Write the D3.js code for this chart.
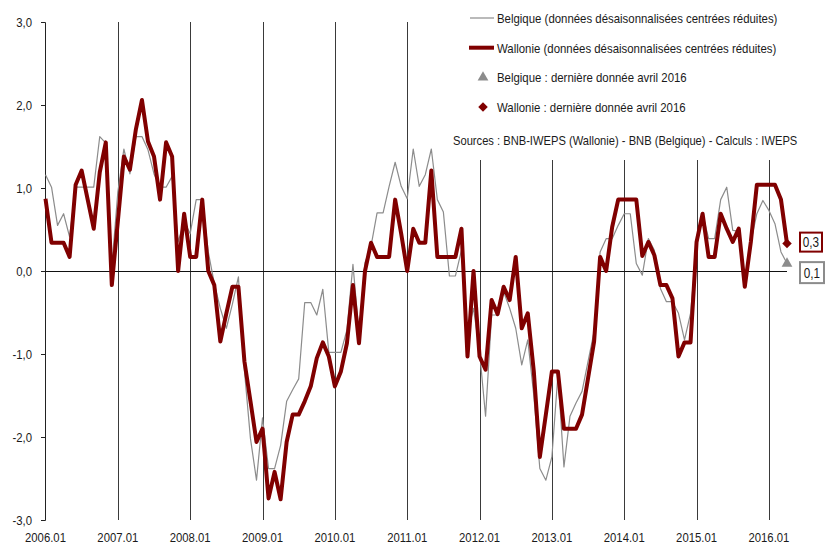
<!DOCTYPE html>
<html>
<head>
<meta charset="utf-8">
<script src="https://cdn.jsdelivr.net/npm/d3@7"></script>
<style>
  body { margin: 0; background: #fff; }
  svg text { font-family: "Liberation Sans", Arial, sans-serif; fill: #1a1a1a; }
</style>
</head>
<body>
<div id="container"></div>
<script>
var width = 827;
var height = 545;

// monthly values, 2006.01 -> 2016.04
var belgique = [
  1.16, 1.01, 0.55, 0.69, 0.41, 1.01, 1.01, 1.01, 1.01, 1.62, 1.54, 0.05,
  0.95, 1.47, 1.17, 1.62, 1.62, 1.46, 1.17, 1.01, 1.01, 1.14, 0.35, 0.6,
  0.45, 0.86, 0.86, 0.23, -0.15, -0.45, -0.69, -0.4, -0.07, -1.2, -2.02, -2.52,
  -1.77, -2.38, -2.38, -2.1, -1.57, -1.43, -1.3, -0.38, -0.38, -0.53, -0.22, -0.98,
  -0.98, -0.98, -0.71, 0.08, -0.75, 0.1, 0.3, 0.7, 0.7, 1.02, 1.31, 1.02,
  0.87, 1.47, 1.02, 1.16, 1.47, 0.86, 0.71, -0.06, -0.06, 0.25, -0.75, -0.45,
  -0.97, -1.75, -0.53, -0.53, -0.25, -0.45, -0.69, -1.13, -0.83, -1.5, -2.38, -2.52,
  -2.24, -1.25, -2.36, -1.75, -1.59, -1.45, -1.09, -0.73, 0.23, 0.39, 0.39, 0.55,
  0.69, 0.69, 0.09, -0.05, 0.39, 0.25, -0.21, -0.37, -0.37, -0.51, -0.83, -0.51,
  0.29, 0.69, 0.39, 0.39, 0.86, 1.01, 0.49, 0.48, -0.11, 0.35, 0.69, 0.85,
  0.73, 0.57, 0.23, 0.09
];

var wallonie = [
  0.87, 0.34, 0.34, 0.34, 0.17, 1.04, 1.21, 0.86, 0.51, 1.19, 1.55, -0.17,
  0.6, 1.38, 1.22, 1.71, 2.06, 1.56, 1.38, 0.86, 1.55, 1.38, 0.0, 0.69,
  0.17, 0.17, 0.86, 0.0, -0.17, -0.85, -0.51, -0.19, -0.19, -1.09, -1.57, -2.06,
  -1.9, -2.74, -2.42, -2.75, -2.06, -1.73, -1.73, -1.57, -1.39, -1.05, -0.86, -1.03,
  -1.39, -1.21, -0.87, -0.17, -0.87, 0.0, 0.34, 0.17, 0.17, 0.17, 0.86, 0.45,
  0.0, 0.51, 0.34, 0.34, 1.21, 0.17, 0.17, 0.17, 0.17, 0.51, -1.03, 0.0,
  -1.03, -1.19, -0.35, -0.52, -0.19, -0.35, 0.17, -0.69, -0.51, -1.21, -2.24, -1.73,
  -1.21, -1.21, -1.9, -1.9, -1.9, -1.73, -1.29, -0.85, 0.17, 0.0, 0.53, 0.86,
  0.86, 0.86, 0.86, 0.18, 0.35, 0.19, -0.17, -0.17, -0.33, -1.03, -0.86, -0.86,
  0.35, 0.69, 0.17, 0.17, 0.69, 0.51, 0.35, 0.51, -0.19, 0.35, 1.04, 1.04,
  1.04, 1.04, 0.86, 0.33
];

var yearLabels = ["2006.01", "2007.01", "2008.01", "2009.01", "2010.01", "2011.01",
  "2012.01", "2013.01", "2014.01", "2015.01", "2016.01"];
var yTicks = [-3, -2, -1, 0, 1, 2, 3];

var legendLabels = [
  "Belgique (données désaisonnalisées centrées réduites)",
  "Wallonie (données désaisonnalisées centrées réduites)",
  "Belgique : dernière donnée avril 2016",
  "Wallonie : dernière donnée avril 2016"
];
var sourceText = "Sources : BNB-IWEPS (Wallonie) - BNB (Belgique) - Calculs : IWEPS";

var grey = "#8c8c8c";
var red = "#800000";

// no narrow font installed: squeeze Liberation Sans horizontally
var squeeze = 0.84;
function sq(v) { return v / squeeze; }
var sqT = "scale(" + squeeze + ",1)";

// french number format, with a plain hyphen for negatives
var fr = d3.formatLocale({ decimal: ",", thousands: ".", grouping: [3], currency: ["", " €"], minus: "-" });
var fmt = fr.format(".1f");

window.onload = function() {
  var svg = d3
    .select("#container")
    .append("svg")
    .attr("width", width)
    .attr("height", height);

  var x = d3.scaleLinear().domain([0, belgique.length - 1]).range([45.5, 787]);
  var y = d3.scaleLinear().domain([-3, 3]).range([520, 22]);

  // vertical year lines
  svg
    .append("g")
    .selectAll("line")
    .data(yearLabels.slice(1))
    .enter()
    .append("line")
    .attr("x1", function(d, i) { return Math.round(x((i + 1) * 12)) + 0.5; })
    .attr("x2", function(d, i) { return Math.round(x((i + 1) * 12)) + 0.5; })
    .attr("y1", y(3))
    .attr("y2", y(-3))
    .style("stroke", "#3a3a3a")
    .style("stroke-width", 1);

  // year labels
  svg
    .append("g")
    .selectAll("text")
    .data(yearLabels)
    .enter()
    .append("text")
    .attr("x", function(d, i) { return sq(x(i * 12)); })
    .attr("y", 542.5)
    .attr("transform", sqT)
    .attr("text-anchor", "middle")
    .style("font-size", "13.5px")
    .text(function(d) { return d; });

  // y axis
  var yAxis = d3.axisLeft(y).tickValues(yTicks).tickSize(4).tickPadding(9).tickFormat(fmt);
  var gy = svg.append("g").attr("transform", "translate(45,0)").call(yAxis);
  gy.select(".domain").attr("stroke", "#222");
  gy.selectAll(".tick line").attr("stroke", "#222");
  gy.selectAll(".tick text")
    .attr("x", sq(-13))
    .attr("transform", sqT)
    .style("font-size", "13.5px")
    .attr("fill", "#1a1a1a");

  // zero line
  svg
    .append("line")
    .attr("x1", x(0))
    .attr("x2", x(belgique.length - 1))
    .attr("y1", Math.round(y(0)) + 0.5)
    .attr("y2", Math.round(y(0)) + 0.5)
    .style("stroke", "#111")
    .style("stroke-width", 1);

  var line = d3
    .line()
    .x(function(d, i) { return x(i); })
    .y(function(d) { return y(d); });

  svg
    .append("path")
    .datum(belgique)
    .attr("d", line)
    .style("fill", "none")
    .style("stroke", grey)
    .style("stroke-width", 1.2)
    .style("stroke-linejoin", "round");

  svg
    .append("path")
    .datum(wallonie)
    .attr("d", line)
    .style("fill", "none")
    .style("stroke", red)
    .style("stroke-width", 4)
    .style("stroke-linejoin", "round");

  // last values: markers + boxed labels
  var last = belgique.length - 1;
  var yW = y(wallonie[last]);
  var yB = y(belgique[last]);

  svg
    .append("path")
    .attr("d", d3.symbol(d3.symbolSquare).size(45)())
    .attr("transform", "translate(" + x(last) + "," + yW + ") rotate(45)")
    .style("fill", red);

  svg
    .append("path")
    .attr("d", d3.symbol(d3.symbolTriangle).size(50)())
    .attr("transform", "translate(" + x(last) + "," + yB + ")")
    .style("fill", grey);

  var boxes = [
    { v: wallonie[last], cy: yW - 1.5, color: red, w: 22, h: 19 },
    { v: belgique[last], cy: Math.max(yB, yW + 29), color: grey, w: 24, h: 21 }
  ];

  var lab = svg
    .append("g")
    .selectAll("g")
    .data(boxes)
    .enter()
    .append("g")
    .attr("transform", function(d) { return "translate(" + (x(last) + 13) + "," + d.cy + ")"; });

  lab
    .append("rect")
    .attr("x", 0)
    .attr("y", function(d) { return -d.h / 2; })
    .attr("width", function(d) { return d.w; })
    .attr("height", function(d) { return d.h; })
    .style("fill", "#fff")
    .style("stroke", function(d) { return d.color; })
    .style("stroke-width", 2);

  lab
    .append("text")
    .attr("x", function(d) { return sq(d.w / 2); })
    .attr("dy", "0.36em")
    .attr("transform", sqT)
    .attr("text-anchor", "middle")
    .style("font-size", "14px")
    .text(function(d) { return fmt(d.v); });

  // legend, white background hides the grid lines behind it
  var legend = svg.append("g");
  legend
    .append("rect")
    .attr("x", 445)
    .attr("y", 0)
    .attr("width", width - 445)
    .attr("height", 160)
    .style("fill", "#fff");

  var rowY = [18, 47.7, 77.4, 107];

  legend
    .append("line")
    .attr("x1", 470).attr("x2", 494)
    .attr("y1", rowY[0]).attr("y2", rowY[0])
    .style("stroke", grey).style("stroke-width", 1.2);

  legend
    .append("line")
    .attr("x1", 469).attr("x2", 494)
    .attr("y1", rowY[1]).attr("y2", rowY[1])
    .style("stroke", red).style("stroke-width", 4);

  legend
    .append("path")
    .attr("d", d3.symbol(d3.symbolTriangle).size(50)())
    .attr("transform", "translate(483," + rowY[2] + ")")
    .style("fill", grey);

  legend
    .append("path")
    .attr("d", d3.symbol(d3.symbolSquare).size(45)())
    .attr("transform", "translate(483," + rowY[3] + ") rotate(45)")
    .style("fill", red);

  legend
    .selectAll("text.leg")
    .data(legendLabels)
    .enter()
    .append("text")
    .attr("class", "leg")
    .attr("x", sq(497))
    .attr("y", function(d, i) { return rowY[i]; })
    .attr("dy", "0.36em")
    .attr("transform", sqT)
    .style("font-size", "13.6px")
    .text(function(d) { return d; });

  legend
    .append("text")
    .attr("x", sq(453))
    .attr("y", 145)
    .attr("transform", sqT)
    .style("font-size", "13.3px")
    .text(sourceText);
};
</script>
</body>
</html>
